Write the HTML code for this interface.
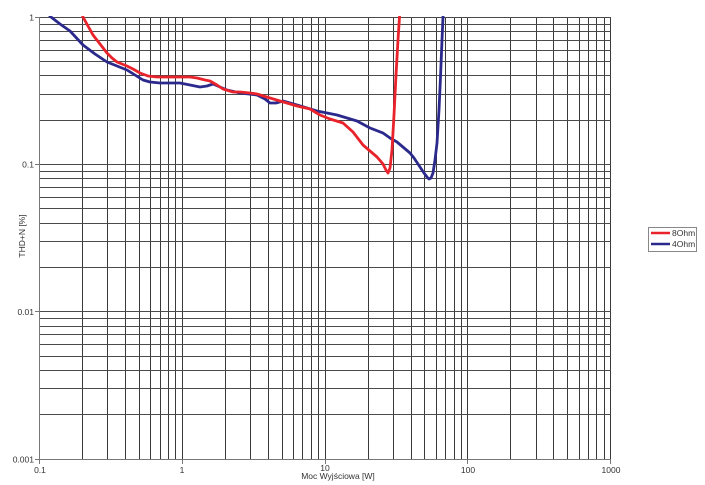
<!DOCTYPE html>
<html>
<head>
<meta charset="utf-8">
<style>
html,body{margin:0;padding:0;background:#fff;}
svg{display:block;}
text{font-family:"Liberation Sans",Arial,sans-serif;fill:#333;}
</style>
</head>
<body>
<svg width="705" height="485" viewBox="0 0 705 485" xmlns="http://www.w3.org/2000/svg">
<rect x="0" y="0" width="705" height="485" fill="#fff"/>
<defs><clipPath id="pc"><rect x="39.3" y="16" width="571.4" height="443.2"/></clipPath></defs>
<g stroke="#3a3a3a" stroke-width="1" fill="none">
<!-- vertical grid -->
<path d="
M82.5 17.3V459.2 M107.5 17.3V459.2 M125.5 17.3V459.2 M139.5 17.3V459.2 M150.5 17.3V459.2 M160.5 17.3V459.2 M168.5 17.3V459.2 M175.5 17.3V459.2
M182.5 17.3V459.2
M225.5 17.3V459.2 M250.5 17.3V459.2 M268.5 17.3V459.2 M282.5 17.3V459.2 M293.5 17.3V459.2 M302.5 17.3V459.2 M311.5 17.3V459.2 M318.5 17.3V459.2
M325.5 17.3V459.2
M368.5 17.3V459.2 M393.5 17.3V459.2 M411.5 17.3V459.2 M424.5 17.3V459.2 M436.5 17.3V459.2 M445.5 17.3V459.2 M454.5 17.3V459.2 M461.5 17.3V459.2
M467.5 17.3V459.2
M510.5 17.3V459.2 M536.5 17.3V459.2 M553.5 17.3V459.2 M567.5 17.3V459.2 M579.5 17.3V459.2 M588.5 17.3V459.2 M596.5 17.3V459.2 M604.5 17.3V459.2
M610.5 17.3V459.2
"/>
<!-- horizontal grid -->
<path stroke="#4a4a4a" d="
M39.3 17.5H610.7 M39.3 24.5H610.7 M39.3 31.5H610.7 M39.3 40.5H610.7 M39.3 50.5H610.7 M39.3 61.5H610.7 M39.3 75.5H610.7 M39.3 94.5H610.7 M39.3 120.5H610.7
M39.3 164.5H610.7 M39.3 171.5H610.7 M39.3 178.5H610.7 M39.3 187.5H610.7 M39.3 197.5H610.7 M39.3 208.5H610.7 M39.3 223.5H610.7 M39.3 241.5H610.7 M39.3 267.5H610.7
M39.3 311.5H610.7 M39.3 318.5H610.7 M39.3 326.5H610.7 M39.3 334.5H610.7 M39.3 344.5H610.7 M39.3 356.5H610.7 M39.3 370.5H610.7 M39.3 388.5H610.7 M39.3 414.5H610.7
"/>
</g>
<!-- axes -->
<g stroke="#777" stroke-width="1" fill="none">
<path d="M39.5 17.3V459.5 M39.3 459.5H610.7"/>
<!-- y ticks -->
<path d="M35 17.5H39.5 M35 164.5H39.5 M35 311.5H39.5 M35 459.5H39.5"/>
<!-- x ticks -->
<path d="M39.5 459.5V464 M182.5 459.5V464 M325.5 459.5V464 M467.5 459.5V464 M610.5 459.5V464"/>
</g>
<!-- curves -->
<g clip-path="url(#pc)" fill="none" stroke-width="2.8" stroke-linejoin="round" stroke-linecap="round">
<polyline stroke="#2b2a8c" points="49,15 51,17 60,24 70,31 83,45 95,54 107,62 117,66 127,70 135,75 143,80 150,82 160,83 170,83 180,83 190,85 200,87 207,86 213,84 220,87 227,90 240,93 257,95 265,99 270,103 276,103 283,101 297,105 317,111 337,115 357,121 370,128 383,133 390,138 397,142 410,153 414,158 420,167 424,173 427,177 429,179 431,178 433,173 435,160 437,143 439,110 440.5,77 442,40 443,17 443.3,12"/>
<polyline stroke="#e8232b" points="82,14 83,17 88,26 93,35 100,44 107,53 112,58 117,62 127,66 133,69 140,73 148,76 157,77 173,77 183,77 190,77 197,78 205,80 210,81 217,85 223,89 233,92 240,92 250,93 257,94 270,98 280,101 297,106 310,109 320,115 330,119 343,123 353,132 363,145 377,157 383,164 386,170 388,173 390,168 392,150 394,115 396,75 398,40 399.5,17 400,12"/>
</g>
<!-- y labels -->
<g font-size="8.5" text-anchor="end">
<text x="34" y="20.5">1</text>
<text x="34" y="167.5">0.1</text>
<text x="34" y="315">0.01</text>
<text x="34" y="462.5">0.001</text>
</g>
<!-- x labels -->
<g font-size="8.5" text-anchor="middle">
<text x="40" y="473">0.1</text>
<text x="182" y="473">1</text>
<text x="325" y="471">10</text>
<text x="468" y="473">100</text>
<text x="611" y="473">1000</text>
</g>
<text x="338" y="479" font-size="8.5" text-anchor="middle">Moc Wyjściowa [W]</text>
<text x="0" y="0" font-size="8.5" text-anchor="middle" transform="translate(25,236) rotate(-90)">THD+N [%]</text>
<!-- legend -->
<rect x="648.5" y="227.5" width="48" height="24" fill="#fff" stroke="#888" stroke-width="1"/>
<line x1="651" y1="233" x2="670" y2="233" stroke="#e8232b" stroke-width="2.5"/>
<line x1="651" y1="244" x2="670" y2="244" stroke="#2b2a8c" stroke-width="2.5"/>
<text x="672" y="236" font-size="8.5">8Ohm</text>
<text x="672" y="247" font-size="8.5">4Ohm</text>
</svg>
</body>
</html>
